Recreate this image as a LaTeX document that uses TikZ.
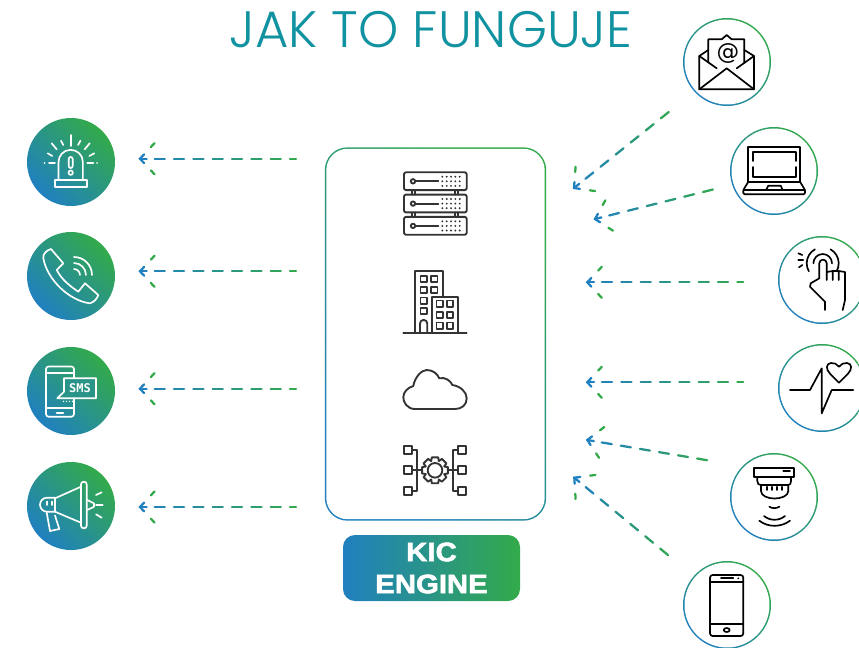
\documentclass[tikz,border=0pt]{standalone}
\usepackage{fontspec}
\setmainfont{DejaVu Sans}
\newfontfamily\titlefont{Poppins Light}
\newfontfamily\smsfont{DejaVu Sans Mono}
\newfontfamily\kicfont[BoldFeatures={FakeBold=2.2,FakeStretch=1.1}]{Liberation Sans}
\usetikzlibrary{calc}
\definecolor{flowblue}{HTML}{2080C0}
\definecolor{flowgreen}{HTML}{33AA4A}
\definecolor{titleteal}{HTML}{1092A0}
\definecolor{icondark}{HTML}{333333}
\definecolor{bubbleteal}{HTML}{2A9488}
\tikzset{
	gradnode/.style={inner sep=0pt,draw=none,left color=flowblue,right color=flowgreen,shading angle=135},
	discnode/.style={gradnode,circle,minimum size=66pt},
	ringnode/.style={gradnode,circle,minimum size=66pt},
	holenode/.style={circle,fill=white,inner sep=0pt,minimum size=63.7pt},
	whiteline/.style={draw=white,line width=1.25pt,line cap=round,line join=round},
	darkline/.style={draw=icondark,line width=1.4pt,line cap=round,line join=round},
	blackline/.style={draw=black,line width=1.25pt,line cap=round,line join=round},
	flowdash/.style={line width=1.7pt,line cap=round},
}
% dashed gradient arrow: #1 tail, #2 tip
\newcommand{\flowarrow}[2]{
	\path let \p1=($(#1)-(#2)$), \n1={veclen(\x1,\y1)} in \pgfextra{\xdef\flowlen{\n1}};
	\foreach \i in {0,...,14}{
		\pgfmathsetmacro\dstart{11+14.5*\i}
		\ifdim\dstart pt>\flowlen\breakforeach\else
			\pgfmathsetmacro\dend{min(\dstart+7.6,\flowlen)}
			\pgfmathsetmacro\mixpct{100*\dstart/\flowlen}
			\colorlet{flowtint}{flowgreen!\mixpct!flowblue}
			\draw[flowdash,flowtint] ($(#2)!\dstart pt!(#1)$)--($(#2)!\dend pt!(#1)$);
		\fi
	}
	\draw[flowdash,flowblue] ($(#2)!4.5pt!47:(#1)$)--(#2)--($(#2)!4.5pt!-47:(#1)$);
	\draw[flowdash,flowblue] (#2)--($(#2)!5pt!(#1)$);
	\draw[flowdash,flowgreen] ($(#2)!12pt!47:(#1)$)--($(#2)!16pt!47:(#1)$);
	\draw[flowdash,flowgreen] ($(#2)!12pt!-47:(#1)$)--($(#2)!16pt!-47:(#1)$);
}
\begin{document}
\begin{tikzpicture}[x=0.75pt,y=-0.75pt]
	\clip (0,0) rectangle (859,647);
	\fill[white] (0,0) rectangle (859,647);
	\node[text=titleteal,inner sep=0pt,anchor=base] (title) at (431,47) {\fontsize{38.4}{40}\titlefont JAK TO FUNGUJE};
	% left discs and right rings
	\foreach \nm/\x/\y in {alarm/71/162,phone/71/276,sms/71/391,horn/71/506}
		\node[discnode] (\nm) at (\x,\y) {};
	\foreach \nm/\x/\y in {mail/727/62,laptop/774/171,touch/822/280,pulse/822/388,sensor/774/497,mobile/727/605}{
		\node[ringnode] (\nm) at (\x,\y) {};
		\node[holenode] at (\nm) {};
	}
	% centre box
	\node[gradnode,rounded corners=17pt,minimum width=166pt,minimum height=280pt] (kicbox) at (435.5,334) {};
	\node[fill=white,inner sep=0pt,rounded corners=16pt,minimum width=163.8pt,minimum height=277.8pt] at (kicbox) {};
	\node[inner sep=0pt,draw=none,left color=flowblue,right color=flowgreen,rounded corners=9pt,minimum width=132.75pt,minimum height=49.5pt] (kicbase) at (431.5,568) {};
	\node[text=white,align=center,inner sep=0pt,font=\fontsize{20}{24}\kicfont\bfseries] (kiclabel) at (431.5,568) {KIC\\ENGINE};
	% arrows, outgoing
	\foreach \nm/\y in {a/158.7,b/271.3,c/388.7,d/507}{
		\coordinate (\nm tail) at (296,\y);
		\coordinate (\nm tip) at (140,\y);
		\flowarrow{\nm tail}{\nm tip}
	}
	% arrows, incoming
	\foreach \nm/\xa/\ya/\xb/\yb in {e/670/111/574/188,f/715/189/595/219,g/743.3/282.3/587.3/282.3,h/743.3/382.3/587.3/382.3,i/710/460.7/587.3/440,j/670/556.7/574.3/477.7}{
		\coordinate (\nm tail) at (\xa,\ya);
		\coordinate (\nm tip) at (\xb,\yb);
		\flowarrow{\nm tail}{\nm tip}
	}
	% alarm
	\draw[whiteline] (55,187)--(55,180)--(87,180)--(87,187)--cycle;
	\draw[whiteline] (58.5,180)--(58.5,162) arc[start angle=180,end angle=360,radius=12.2]--(82.9,180);
	\draw[whiteline] (68.7,159) arc[start angle=180,end angle=360,radius=2]--(72.7,166) arc[start angle=0,end angle=180,radius=2]--cycle;
	\draw[whiteline] (70.7,172.7) circle(2.2);
	\foreach \xa/\ya/\xb/\yb in {70.7/135/70.7/146,51.7/143.3/56.7/149.3,61/140.7/63.3/145,80.4/140.7/78.1/145,89.7/143.3/84.7/149.3,47.7/153.3/52.3/156,94.3/153.3/89.3/156,49/163.3/55/163.3,87.3/163.3/93.3/163.3,44.5/163.3/44.6/163.3,97/163.3/97.1/163.3}
		\draw[whiteline] (\xa,\ya)--(\xb,\yb);
	% handset
	\draw[whiteline] (43.3,258) .. controls (42.5,254) and (47,250) .. (51,249)--(63.3,263.3)--(56.7,270) .. controls (62,280) and (70,286) .. (78.3,291.7)--(85,283.3)--(98.3,295) .. controls (97,299) and (94,302) .. (90,303.3) .. controls (70,301) and (47,280) .. (43.3,258)--cycle;
	\foreach \r in {6,12,18}
		\draw[whiteline] (74,275)++(0,-\r) arc[start angle=-90,end angle=0,radius=\r];
	% sms
	\draw[whiteline,rounded corners=2pt] (46,366.5) rectangle (74,416.7);
	\draw[whiteline] (46,373.3)--(74,373.3) (46,408.3)--(74,408.3) (56.7,412.7)--(63.3,412.7);
	\draw[whiteline,fill=bubbleteal] (64,378.3)--(96,378.3)--(96,398.3)--(57.3,398.3)--(64,391.7)--cycle;
	\node[text=white,inner sep=0pt,font=\fontsize{9}{10}\smsfont\bfseries] (smstext) at (80,388.5) {SMS};
	\foreach \x in {63.5,66.5,69.5,72.5}
		\fill[white] (\x,401.3) circle(0.8);
	% megaphone
	\draw[whiteline,rounded corners=2pt] (81,481.7) rectangle (86.7,528.3);
	\draw[whiteline] (81,486.7)--(55,498.3)--(55,511.7)--(81,522.7);
	\draw[whiteline] (55,497.7)--(47,497.7) arc[start angle=-90,end angle=-270,radius=7]--(55,511.7);
	\draw[whiteline] (46.7,501.5)--(46.7,505) (51.7,501.5)--(51.7,505);
	\draw[whiteline] (46.7,512.7)--(50,531)--(59.3,529)--(55,515.5);
	\draw[whiteline] (87.3,500)--(94,503.3)--(94,506.7)--(87.3,510);
	\draw[whiteline] (96,495)--(101.7,492.3) (96,505)--(102.7,505) (96,514.3)--(101.7,517.7);
	% server
	\foreach \y in {172.3,194.6,216.9}{
		\draw[darkline,rounded corners=1.5pt] (404,\y) rectangle (466.7,\y+17.8);
		\draw[darkline] (413,\y+9) circle(2.2);
		\draw[darkline] (415.2,\y+9)--(438.3,\y+9);
		\foreach \dx in {442.3,446.7,451,455.3,459.7}
			\foreach \dy in {4.4,9,13.6}
				\fill[icondark] (\dx,\y+\dy) circle(1.05);
	}
	\foreach \y in {190.1,212.4}
		\draw[darkline] (411.7,\y)--(411.7,\y+4.5) (415,\y)--(415,\y+4.5) (455,\y)--(455,\y+4.5) (458.3,\y)--(458.3,\y+4.5);
	% building
	\draw[darkline] (403.3,332.7)--(466.7,332.7);
	\draw[darkline] (415,332.7)--(415,271)--(442.7,271)--(442.7,296.7);
	\draw[darkline] (431.7,332.7)--(431.7,296.7)--(458.3,296.7)--(458.3,332.7);
	\foreach \cx/\cy in {423.7/279,434.3/279,423.7/290,434.3/290,423.7/300.7,423.7/311,439.7/303.7,450/303.7,439.7/315,450/315,439.7/325.7,450/325.7}
		\draw[darkline] (\cx-3.2,\cy-3.2) rectangle (\cx+3.2,\cy+3.2);
	\draw[darkline] (420,332.7)--(420,323.5) arc[start angle=180,end angle=360,radius=3.65]--(427.3,332.7);
	% cloud
	\draw[darkline] (415,409) .. controls (406.7,409) and (403.3,401.7) .. (403.3,397.3) .. controls (403.3,391.7) and (408.3,387.3) .. (413.3,386) .. controls (415,376.7) and (421.7,370) .. (426.7,370) .. controls (433.3,370) and (437.3,374) .. (439.3,378.3) .. controls (445,376.7) and (450.7,380.7) .. (452.3,385) .. controls (460,386) and (466.7,391.7) .. (466.7,398.3) .. controls (466.7,405) and (461.7,409) .. (455,409)--cycle;
	% gear network
	\foreach \cy in {450,470.3,490.7}{
		\draw[darkline] (404.2,\cy-4) rectangle (412.4,\cy+4);
		\draw[darkline] (458.2,\cy-4) rectangle (466.4,\cy+4);
		\draw[darkline] (412.4,\cy)--(416.7,\cy) (458.2,\cy)--(453.3,\cy);
	}
	\draw[darkline] (416.7,450)--(416.7,490.7) (453.3,450)--(453.3,490.7) (416.7,470.3)--(422,470.3) (448,470.3)--(453.3,470.3);
	\draw[darkline,shift={(435,470.3)}] (-14:13.3) \foreach \a in {0,45,...,315}{ --(\a-14:13.3)--(\a+14:13.3)--(\a+22:10)--(\a+23:10)} --cycle;
	\draw[darkline] (435,470.3) circle(7.3);
	% mail
	\draw[blackline] (699.3,56)--(699.3,89.3)--(754,89.3)--(754,56)--(736.7,68.3);
	\draw[blackline] (699.3,56)--(716.7,68.3) (699.3,56)--(708.3,50) (754,56)--(744.3,50);
	\draw[blackline] (699.3,89.3)--(726.7,68.3)--(754,89.3);
	\draw[blackline] (708.3,62.5)--(708.3,39.3)--(721.7,39.3)--(726.7,35)--(731.7,39.3)--(744.3,39.3)--(744.3,62.5);
	\node[text=black,inner sep=0pt,font=\fontsize{17}{18}\selectfont] (mailat) at (728,53) {@};
	% laptop
	\draw[blackline] (748.3,181.7)--(748.3,147.3)--(800,147.3)--(800,181.7)--cycle;
	\draw[blackline] (752.7,161)--(752.7,151.7)--(796,151.7)--(796,161) (796,167)--(796,176.7)--(752.7,176.7)--(752.7,167);
	\draw[blackline,rounded corners=1pt] (748.3,181.7)--(743.3,190)--(743.3,194.3)--(805,194.3)--(805,190)--(800,181.7);
	\draw[blackline] (743.3,190)--(805,190);
	\draw[blackline] (766,190)--(768.3,185.7)--(780.7,185.7)--(782.7,190);
	% touch
	\draw[blackline] (825,310)--(825,301.7)--(810,286.7)--(810.7,283.3)--(819.3,278.3)--(819.3,263.3) arc[start angle=180,end angle=360,radius=3.7]--(826.7,280);
	\draw[blackline] (826.7,272)--(832.7,271) (832.7,280)--(832.7,271)--(838.7,271) (838.7,280)--(838.7,271)--(845,272)--(845,300)--(842.7,310);
	\draw[blackline] (822.7,263.3)++(-9.3,0) arc[start angle=180,end angle=360,radius=9.3];
	\draw[blackline] (822.7,263.3)++(-119:16) arc[start angle=-119,end angle=-210,radius=16];
	\draw[blackline] (822.7,263.3)++(-61:16) arc[start angle=-61,end angle=30,radius=16];
	\draw[blackline] (798.3,253.3)--(802.3,255) (798.3,260)--(803.3,260) (799,267.3)--(802.3,265);
	% pulse
	\draw[blackline] (790,390)--(810,390)--(821.7,368.3)--(821.7,413.3)--(831.7,390)--(853.3,390);
	\draw[blackline] (839,382.7)--(830,373.7) .. controls (825.5,369) and (826,363.5) .. (831,363) .. controls (834,362.5) and (837,364) .. (839,366.7) .. controls (841,364) and (844,362.5) .. (847,363) .. controls (852,363.5) and (852.5,369) .. (848,373.7)--cycle;
	% sensor
	\draw[blackline] (754.3,467.7) rectangle (794.3,477.3);
	\draw[blackline] (783.3,471.3)--(790,471.3);
	\draw[blackline] (757.3,477.3)--(757.3,481) .. controls (757.3,484) and (759,485) .. (761,485)--(788,485) .. controls (790,485) and (791,484) .. (791,481)--(791,477.3);
	\draw[blackline] (761,485)--(761,491) .. controls (761,496) and (768,498.5) .. (774.5,498.5) .. controls (781,498.5) and (788.3,496) .. (788.3,491)--(788.3,485);
	\foreach \x in {766.7,771.7,776.7,781.7}
		\draw[blackline] (\x,486.7)--(\x,490);
	\draw[blackline] (769.3,506.7) .. controls (772,508.6) and (776.5,508.6) .. (779.3,506.7);
	\draw[blackline] (764,516) .. controls (770,521) and (779,521) .. (785,516);
	\draw[blackline] (759.3,520.7) .. controls (768,527.5) and (781,527.5) .. (790,520.7);
	% mobile
	\draw[blackline,rounded corners=2pt] (710,575) rectangle (743.3,636);
	\draw[blackline] (710,581.7)--(743.3,581.7) (710,624.3)--(743.3,624.3) (721,578.3)--(733.3,578.3);
	\fill[black] (738.3,578.3) circle(1);
	\draw[blackline] (726.7,630) ellipse(3 and 2);
\end{tikzpicture}
\end{document}
